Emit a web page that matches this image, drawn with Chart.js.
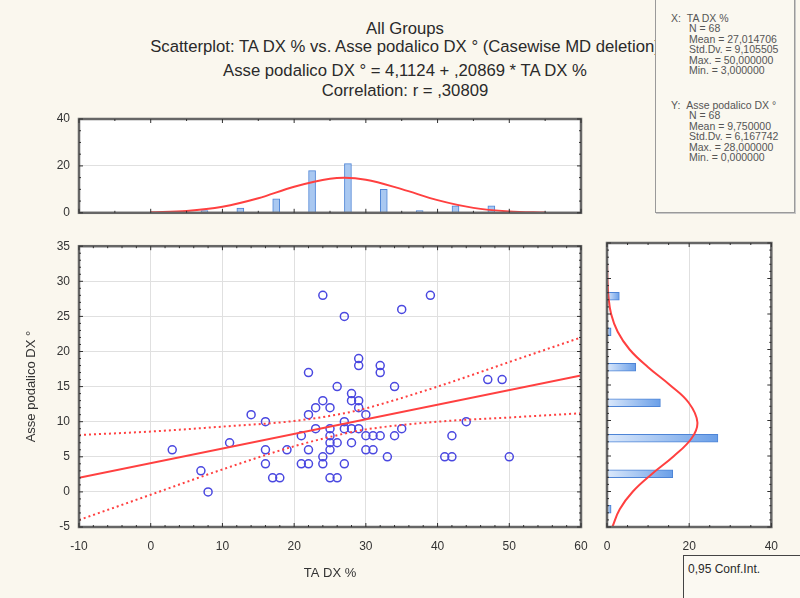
<!DOCTYPE html>
<html>
<head>
<meta charset="utf-8">
<script src="https://cdn.jsdelivr.net/npm/chart.js@4.4.0/dist/chart.umd.min.js"></script>
<style>
  body { margin:0; width:800px; height:598px; background:#faf7ee; position:relative; overflow:hidden;
         font-family:"Liberation Sans", Arial, sans-serif; color:#2a2a2a; }
  canvas { position:absolute; }
  .ttl { position:absolute; left:105px; width:600px; text-align:center; font-size:16.7px; line-height:20px; white-space:nowrap; }
  #stats { position:absolute; left:655px; top:-2px; width:138px; height:213px; background:#faf8f0;
           border:1px solid #9a9a9a; box-shadow:1px 1px 0 #c8c8c8; z-index:5; font-size:10.5px; line-height:10.4px; color:#555; }
  #stats .b { position:absolute; left:15px; }
  #stats .b div { padding-left:18px; white-space:nowrap; }
  #stats .b div.h { padding-left:0; }
  #legend { position:absolute; left:683px; top:555px; width:130px; height:60px; border:1px solid #444;
            background:#fbf9f2; font-size:12px; z-index:5; }
  #legend span { position:absolute; left:4px; top:6px; }
</style>
</head>
<body>
<div class="ttl" style="top:19px">All Groups</div>
<div class="ttl" style="top:37px">Scatterplot: TA DX % vs. Asse podalico DX ° (Casewise MD deletion)</div>
<div class="ttl" style="top:61px">Asse podalico DX ° = 4,1124 + ,20869 * TA DX %</div>
<div class="ttl" style="top:81px">Correlation: r = ,30809</div>

<div id="stats">
  <div class="b" style="top:14px">
    <div class="h">X:&nbsp;&nbsp;TA DX %</div>
    <div>N = 68</div>
    <div>Mean = 27,014706</div>
    <div>Std.Dv. = 9,105505</div>
    <div>Max. = 50,000000</div>
    <div>Min. = 3,000000</div>
  </div>
  <div class="b" style="top:101px">
    <div class="h">Y:&nbsp;&nbsp;Asse podalico DX °</div>
    <div>N = 68</div>
    <div>Mean = 9,750000</div>
    <div>Std.Dv. = 6,167742</div>
    <div>Max. = 28,000000</div>
    <div>Min. = 0,000000</div>
  </div>
</div>
<div id="legend"><span>0,95 Conf.Int.</span></div>

<canvas id="top" width="600" height="129" style="left:0;top:100px"></canvas>
<canvas id="main" width="600" height="368" style="left:0;top:230px"></canvas>
<canvas id="right" width="200" height="368" style="left:590px;top:230px"></canvas>

<script>
// scatter data (TA DX %, Asse podalico DX °)
const taDx   = [3, 7, 8, 11, 14, 16, 16, 16, 17, 18, 19, 21, 21, 22, 22, 22, 22, 23, 24, 23,
                24, 25, 24, 24, 25, 25, 25, 26, 25, 26, 27, 35, 39, 29, 29, 32, 32, 34, 47, 49,
                44, 42, 41, 42, 50, 28, 28, 29, 29, 30, 27, 28, 29, 30, 31, 32, 34, 35, 30, 31,
                33, 28, 26, 27, 27, 25];
const asseDx = [6, 3, 0, 7, 11, 10, 6, 4, 2, 2, 6, 8, 4, 4, 17, 11, 6, 9, 28, 12,
                13, 12, 5, 4, 9, 8, 2, 2, 6, 15, 25, 26, 28, 19, 18, 18, 17, 15, 16, 16,
                10, 8, 5, 5, 5, 14, 13, 13, 12, 11, 10, 9, 9, 8, 8, 8, 8, 9, 6, 6,
                5, 7, 7, 4, 9, 7];

// regression line and 0.95 confidence band
const fitX    = [-10, 60];
const fitY    = [2.0, 16.6];
const bandX   = [-10, 0, 10, 20, 27, 30, 40, 50, 60];
const bandUp  = [8.1, 8.6, 9.3, 10.1, 11.2, 11.9, 15.0, 18.5, 22.0];
const bandLow = [-4.0, -0.4, 3.2, 6.5, 8.3, 8.9, 10.0, 10.6, 11.2];

// top histogram (TA DX %)
const xBins   = [7.5, 12.5, 17.5, 22.5, 27.5, 32.5, 37.5, 42.5, 47.5];
const xCounts = [1, 2, 6, 18, 21, 10, 1, 3, 3];
const xCurveX = [0, 5, 10, 15, 20, 25, 27, 30, 35, 40, 45, 50, 55];
const xCurveY = [0.2, 0.8, 2.6, 6.2, 11.1, 14.5, 14.9, 14.1, 10.1, 5.4, 2.1, 0.6, 0.1];

// right histogram (Asse podalico DX °)
const yBins   = [-2.5, 2.5, 7.5, 12.5, 17.5, 22.5, 27.5];
const yCounts = [1, 16, 27, 13, 7, 1, 3];
const yCurveY = [-5, -2.5, 0, 2.5, 5, 7.5, 9.75, 12.5, 15, 17.5, 20, 22.5, 25, 27.5, 30, 32];
const yCurveX = [1.3, 3.1, 6.3, 11.0, 16.3, 20.6, 22.0, 19.9, 15.3, 10.0, 5.5, 2.6, 1.0, 0.35, 0.1, 0.03];

Chart.defaults.font.family = "'Liberation Sans', Arial, sans-serif";
Chart.defaults.color = '#333';
Chart.defaults.animation = false;

const tickFont = { size: 12 };
const gridColor = '#e0e0e0';

// frame with small inward ticks, like the Statistica plot boxes
const framePlugin = {
  id: 'frame',
  afterDraw(chart, args, opts) {
    const { ctx, chartArea: a } = chart;
    const xs = chart.scales.x, ys = chart.scales.y;
    ctx.save();
    ctx.strokeStyle = '#666';
    ctx.lineWidth = 2.5;
    ctx.strokeRect(a.left, a.top, a.right - a.left, a.bottom - a.top);
    ctx.strokeStyle = '#303030';
    ctx.lineWidth = 1;
    ctx.beginPath();
    for (let v = xs.min; v <= xs.max + 1e-9; v += opts.xMinor) {
      const p = xs.getPixelForValue(v);
      const len = Math.abs(v % opts.xMajor) < 1e-9 ? 4 : 2;
      ctx.moveTo(p, a.top); ctx.lineTo(p, a.top + len);
      ctx.moveTo(p, a.bottom); ctx.lineTo(p, a.bottom - len);
    }
    for (let v = ys.min; v <= ys.max + 1e-9; v += opts.yMinor) {
      const p = ys.getPixelForValue(v);
      const len = Math.abs(v % opts.yMajor) < 1e-9 ? 4 : 2;
      ctx.moveTo(a.left, p); ctx.lineTo(a.left + len, p);
      ctx.moveTo(a.right, p); ctx.lineTo(a.right - len, p);
    }
    ctx.stroke();
    ctx.restore();
  }
};

const whiteArea = {
  id: 'whiteArea',
  beforeDraw(chart) {
    const { ctx, chartArea: a } = chart;
    ctx.save();
    ctx.fillStyle = '#ffffff';
    ctx.fillRect(a.left, a.top, a.right - a.left, a.bottom - a.top);
    ctx.restore();
  }
};

const pts = (xs, ys) => xs.map((x, i) => ({ x: x, y: ys[i] }));
const red = '#ff4040';

// horizontal bars get lighter at the base and darker toward the end
function hBarFill(c) {
  const chart = c.chart;
  if (!chart.chartArea || !c.raw) return '#a3c4f0';
  const xs = chart.scales.x;
  const x0 = xs.getPixelForValue(0), x1 = xs.getPixelForValue(c.raw.x);
  if (x1 - x0 < 1) return '#a3c4f0';
  const g = chart.ctx.createLinearGradient(x0, 0, x1, 0);
  g.addColorStop(0, '#dce9fb');
  g.addColorStop(1, '#6a9fe8');
  return g;
}

// main scatterplot
new Chart(document.getElementById('main'), {
  type: 'scatter',
  data: {
    datasets: [
      { data: pts(taDx, asseDx), pointRadius: 4, borderColor: '#4a48e0', borderWidth: 1.5,
        backgroundColor: 'rgba(0,0,0,0)', order: 3 },
      { type: 'line', data: pts(fitX, fitY), borderColor: red, borderWidth: 2, pointRadius: 0, order: 1 },
      { type: 'line', data: pts(bandX, bandUp), borderColor: red, borderWidth: 2, borderDash: [2, 3],
        pointRadius: 0, cubicInterpolationMode: 'monotone', order: 2 },
      { type: 'line', data: pts(bandX, bandLow), borderColor: red, borderWidth: 2, borderDash: [2, 3],
        pointRadius: 0, cubicInterpolationMode: 'monotone', order: 2 }
    ]
  },
  options: {
    responsive: false,
    layout: { padding: { left: 0, right: 19, top: 13, bottom: 0 } },
    plugins: { legend: { display: false }, tooltip: { enabled: false },
               frame: { xMinor: 2, xMajor: 10, yMinor: 1, yMajor: 5 } },
    scales: {
      x: { type: 'linear', min: -10, max: 60,
           ticks: { stepSize: 10, padding: 12, font: tickFont },
           grid: { color: gridColor, drawTicks: false }, border: { display: false },
           title: { display: true, text: 'TA DX %', font: { size: 13 }, padding: { top: 0, bottom: 17 } },
           afterFit(s) { s.height = 71; } },
      y: { min: -5, max: 35,
           ticks: { stepSize: 5, padding: 9, font: tickFont },
           grid: { color: gridColor, drawTicks: false }, border: { display: false },
           title: { display: true, text: 'Asse podalico DX °', font: { size: 13 }, padding: { top: 24, bottom: 0 } },
           afterFit(s) { s.width = 79; } }
    }
  },
  plugins: [whiteArea, framePlugin]
});

// top histogram
new Chart(document.getElementById('top'), {
  type: 'bar',
  data: {
    datasets: [
      { type: 'line', data: pts(xCurveX, xCurveY), borderColor: red, borderWidth: 2, pointRadius: 0,
        cubicInterpolationMode: 'monotone', order: 1 },
      { type: 'bar', data: pts(xBins, xCounts), barThickness: 7, backgroundColor: '#a9c8f1',
        borderColor: '#4d84d6', borderWidth: 1, order: 2 }
    ]
  },
  options: {
    responsive: false,
    layout: { padding: { left: 0, right: 19, top: 19, bottom: 8 } },
    plugins: { legend: { display: false }, tooltip: { enabled: false },
               frame: { xMinor: 5, xMajor: 10, yMinor: 5, yMajor: 20 } },
    scales: {
      x: { type: 'linear', min: -10, max: 60, offset: false, display: false },
      y: { min: 0, max: 40,
           ticks: { stepSize: 20, padding: 9, font: tickFont },
           grid: { color: gridColor, drawTicks: false }, border: { display: false },
           afterFit(s) { s.width = 79; } }
    }
  },
  plugins: [whiteArea, framePlugin]
});

// right histogram
new Chart(document.getElementById('right'), {
  type: 'bar',
  data: {
    datasets: [
      { type: 'line', indexAxis: 'y', data: pts(yCurveX, yCurveY), borderColor: red, borderWidth: 2,
        pointRadius: 0, tension: 0.4, order: 1 },
      { type: 'bar', data: pts(yCounts, yBins), barThickness: 8, backgroundColor: hBarFill,
        borderColor: '#4d84d6', borderWidth: 1, order: 2 }
    ]
  },
  options: {
    responsive: false,
    indexAxis: 'y',
    layout: { padding: { left: 17, right: 17, top: 13, bottom: 0 } },
    plugins: { legend: { display: false }, tooltip: { enabled: false },
               frame: { xMinor: 5, xMajor: 20, yMinor: 1, yMajor: 5 } },
    scales: {
      x: { type: 'linear', min: 0, max: 40,
           ticks: { stepSize: 20, padding: 12, font: tickFont },
           grid: { color: gridColor, drawTicks: false }, border: { display: false },
           afterFit(s) { s.height = 71; } },
      y: { type: 'linear', min: -5, max: 35, offset: false, display: false }
    }
  },
  plugins: [whiteArea, framePlugin]
});
</script>
</body>
</html>
